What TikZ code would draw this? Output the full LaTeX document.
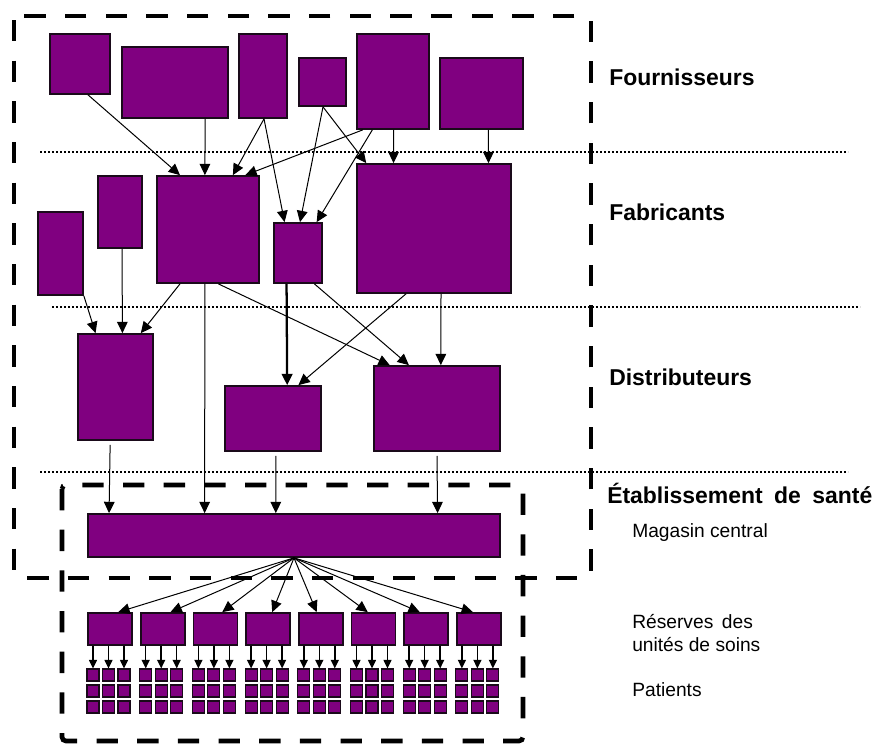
\documentclass[tikz,border=0pt]{standalone}
\usepackage{fontspec}
\setmainfont{Liberation Sans}
\usetikzlibrary{arrows.meta,calc,fit}
\definecolor{pfill}{HTML}{800080}
\definecolor{pline}{HTML}{1A0A1A}
\tikzset{
  pbox/.style={draw=pline, fill=pfill, line width=1.3pt, inner sep=0pt},
  pat/.style={draw=pline, fill=pfill, line width=0.8pt, inner sep=0pt},
  conn/.style={line width=0.75pt, -{Triangle[length=8.5pt,width=8pt]}},
  thickconn/.style={line width=1.7pt, -{Triangle[length=8.5pt,width=8pt]}},
  parr/.style={line width=1.1pt, -{Triangle[length=6.5pt,width=6pt]}},
  bigdash/.style={line width=3.5pt, dash pattern=on 16pt off 14.5pt, rounded corners=3pt},
  sep/.style={line width=1.1pt, dash pattern=on 1.4pt off 1.6pt},
  head/.style={anchor=west, inner sep=0pt, font=\fontsize{17.2}{20}\selectfont\bfseries},
  sub/.style={anchor=west, inner sep=0pt, align=left, font=\fontsize{14.4}{17.5}\selectfont}
}
\newcommand{\pbx}[5]{\node[pbox, fit={(#2,#3) (#4,#5)}] (#1) {};}
\begin{document}
\begin{tikzpicture}[x=0.75pt, y=-0.75pt]
\useasboundingbox (0,0) rectangle (872,744);
% dashed frames
\draw[bigdash] (14,16) rectangle (591,578);
\draw[bigdash] (62,485) rectangle (523,741);
% dotted separators
\draw[sep] (40,152) -- (848,152);
\draw[sep] (52,307) -- (860,307);
\draw[sep] (40,472) -- (848,472);
% Fournisseurs
\pbx{f1}{50}{34}{110}{94}
\pbx{f2}{122}{47}{228}{118}
\pbx{f3}{239}{34}{287}{118}
\pbx{f4}{299}{58}{346}{106}
\pbx{f5}{357}{34}{429}{129}
\pbx{f6}{440}{58}{523}{129}
% Fabricants
\pbx{a1}{38}{212}{83}{295}
\pbx{a2}{98}{176}{142}{248}
\pbx{a3}{157}{176}{259}{283}
\pbx{a4}{274}{223}{322}{283}
\pbx{a5}{357}{164}{511}{293}
% Distributeurs
\pbx{d1}{78}{334}{153}{440}
\pbx{d2}{225}{386}{321}{451}
\pbx{d3}{374}{366}{500}{451}
% Magasin central
\pbx{m}{88}{514}{500}{557}
% connectors F -> A
\foreach \s/\fs/\t/\ft in {f1/0.63/a3/0.23, f2/0.78/a3/0.47, f3/0.52/a3/0.74, f3/0.52/a4/0.23,
  f4/0.51/a4/0.54, f4/0.51/a5/0.065, f5/0.09/a3/0.86, f5/0.22/a4/0.875, f5/0.51/a5/0.24, f6/0.58/a5/0.85}
  \draw[conn] ($(\s.south west)!\fs!(\s.south east)$) -- ($(\t.north west)!\ft!(\t.north east)$);
% connectors A -> D / M
\foreach \s/\fs/\t/\ft in {a1/1.0/d1/0.24, a2/0.545/d1/0.59, a3/0.23/d1/0.83, a3/0.47/m/0.284,
  a3/0.6/d3/0.13, a4/0.83/d3/0.28, a5/0.32/d2/0.76, a5/0.545/d3/0.53}
  \draw[conn] ($(\s.south west)!\fs!(\s.south east)$) -- ($(\t.north west)!\ft!(\t.north east)$);
\draw[thickconn] ($(a4.south west)!0.27!(a4.south east)$) -- ($(d2.north west)!0.645!(d2.north east)$);
% connectors D -> M
\foreach \s/\fs/\t/\ft in {d1/0.43/m/0.053, d2/0.53/m/0.456, d3/0.5/m/0.847}
  \draw[conn] ($(\s.south west)!\fs!(\s.south east)$) ++(0,4) -- ($(\t.north west)!\ft!(\t.north east)$);
% Reserves and patients
\foreach \i in {0,...,7} {
  \pgfmathsetmacro\xa{88+52.7*\i}
  \pgfmathsetmacro\xb{\xa+44}
  \node[pbox, fit={(\xa,613) (\xb,645)}] (r\i) {};
  \foreach \c in {0,1,2} {
    \foreach \rr in {0,1,2} {
      \pgfmathsetmacro\px{87+52.7*\i+15.5*\c}
      \pgfmathsetmacro\pxb{\px+12}
      \pgfmathsetmacro\py{669+16*\rr}
      \pgfmathsetmacro\pyb{\py+12}
      \node[pat, fit={(\px,\py) (\pxb,\pyb)}] (p\i-\rr-\c) {};
    }
    \draw[parr] (p\i-0-\c.north |- r\i.south) -- (p\i-0-\c.north);
  }
}
\foreach \i/\f in {0/0.68,1/0.67,2/0.65,3/0.59,4/0.41,5/0.375,6/0.36,7/0.37}
  \draw[conn] (m.south) -- ($(r\i.north west)!\f!(r\i.north east)$);
% labels
\node[head] (l1) at (609,77) {Fournisseurs};
\node[head] (l2) at (609,212) {Fabricants};
\node[head] (l3) at (609,377) {Distributeurs};
\node[head] (l4) at (607,493) {Établissement\hspace{0.5em}de\hspace{0.5em}santé};
\node[sub] (l5) at (632,533) {Magasin central};
\node[sub] (l6) at (632,633) {Réserves\hspace{0.45em}des\\unités de soins};
\node[sub] (l7) at (632,690) {Patients};
\end{tikzpicture}
\end{document}
